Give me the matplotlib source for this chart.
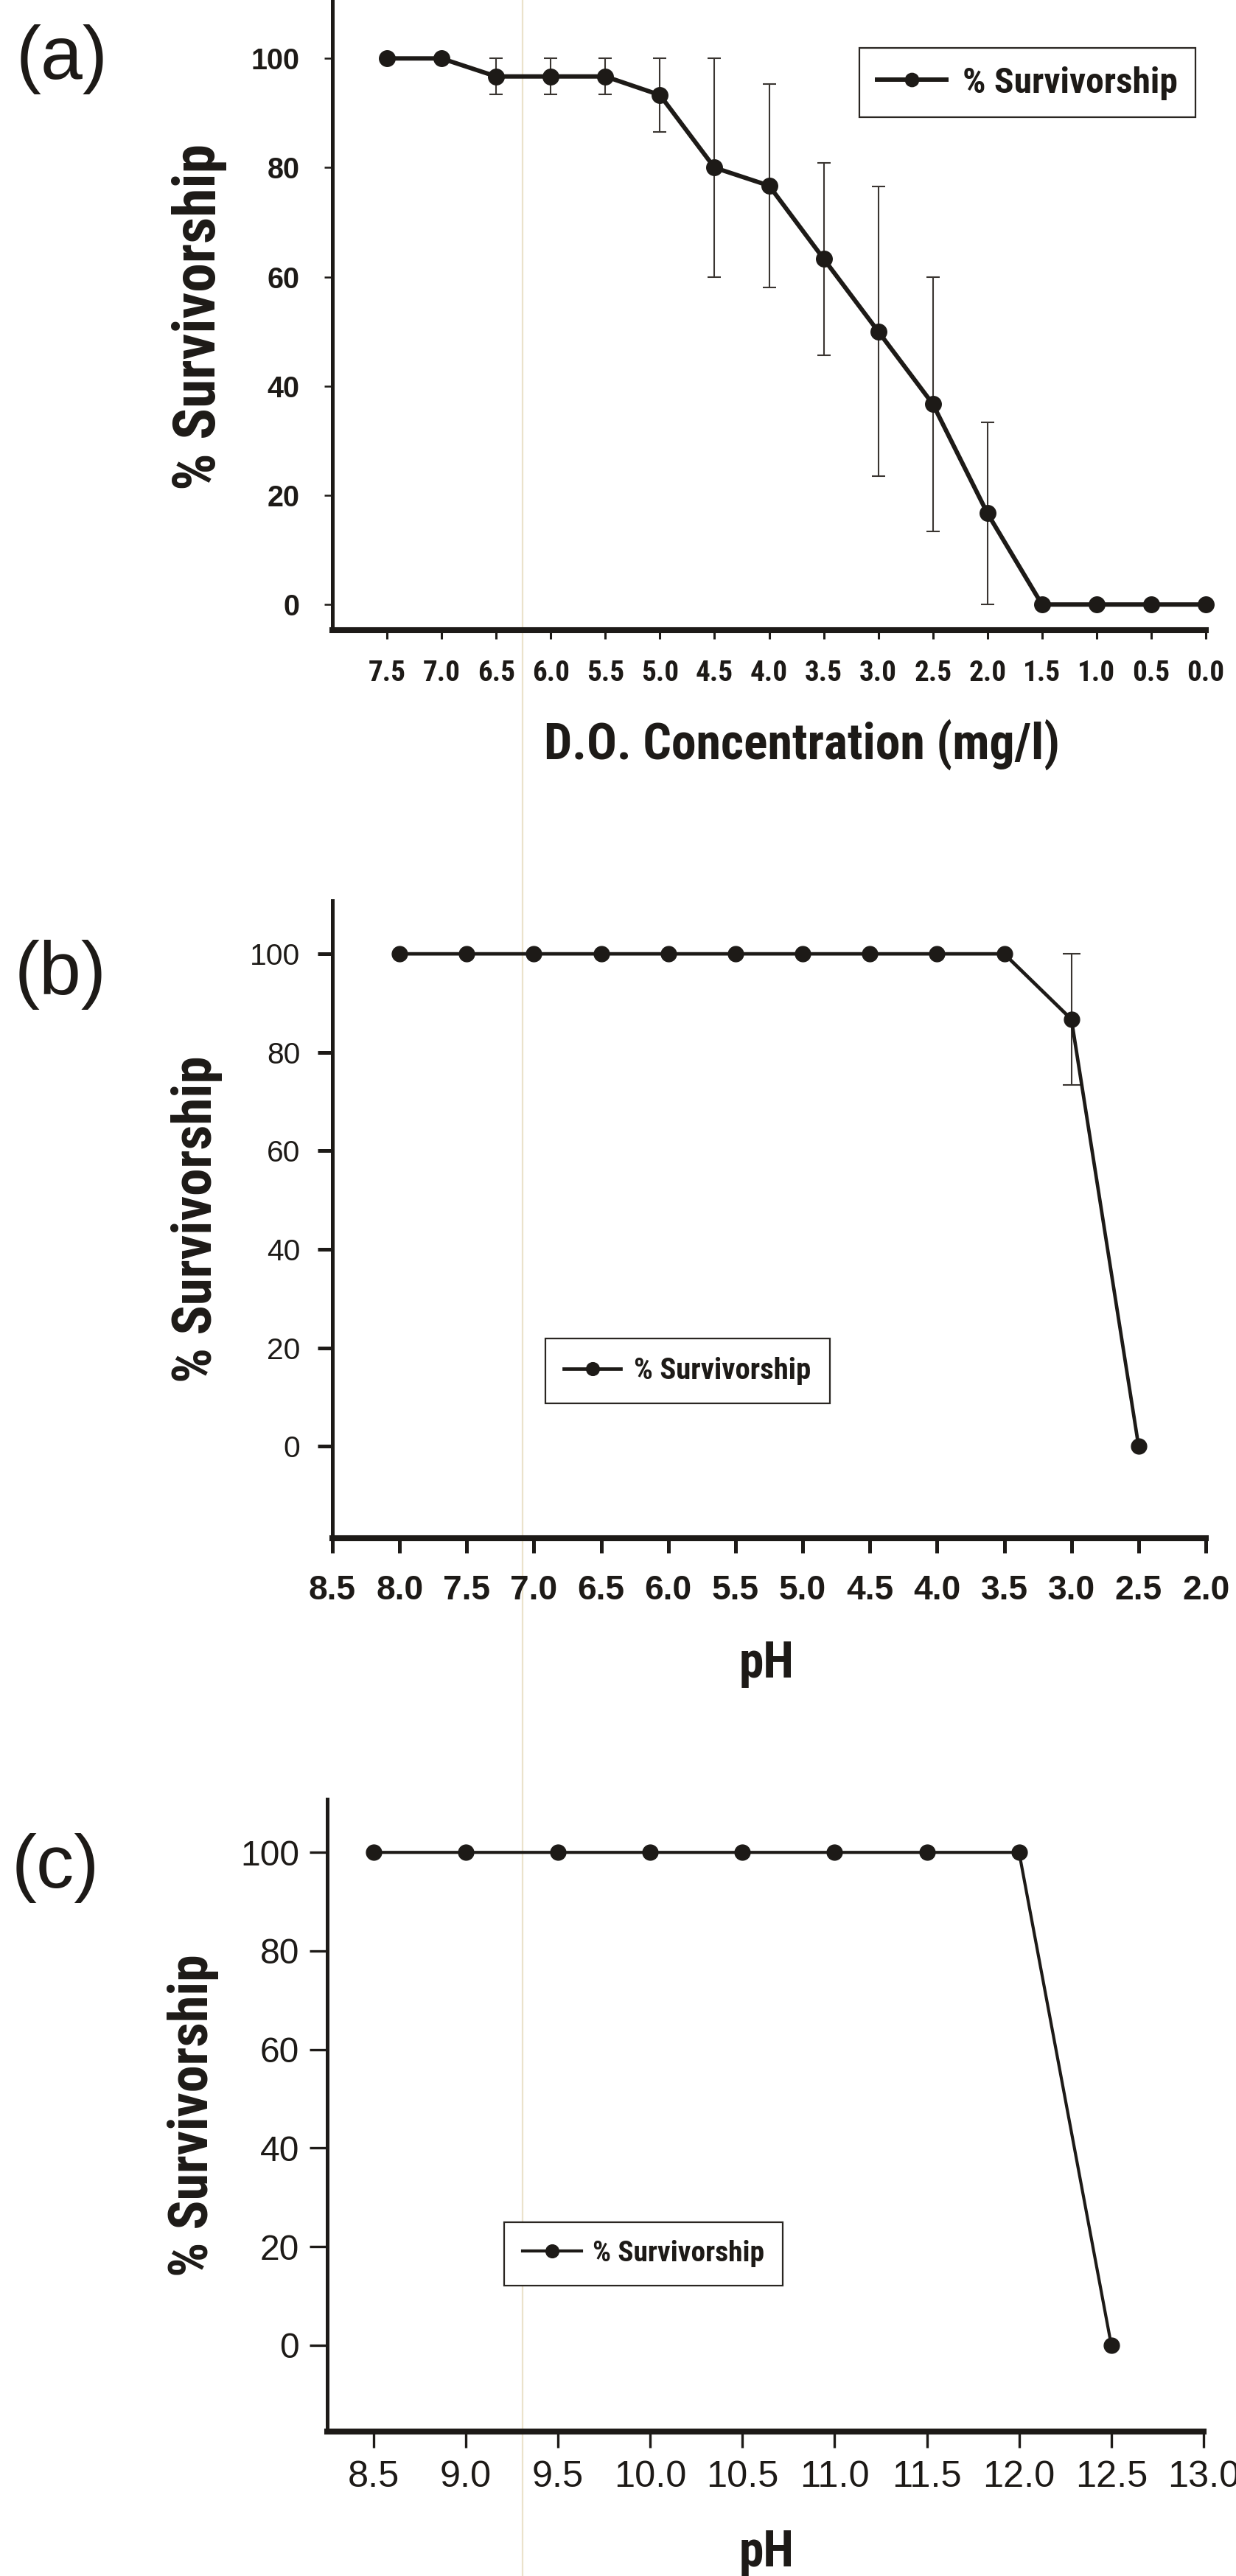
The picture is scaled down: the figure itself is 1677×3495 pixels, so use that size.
import numpy as np
import matplotlib
matplotlib.use("Agg")
import matplotlib.pyplot as plt
from matplotlib import font_manager as fm
from matplotlib.font_manager import FontProperties
from matplotlib.lines import Line2D

# ---------------- data ----------------
do_conc = [7.5, 7.0, 6.5, 6.0, 5.5, 5.0, 4.5, 4.0, 3.5, 3.0, 2.5, 2.0, 1.5, 1.0, 0.5, 0.0]
do_surv = [100.0, 100.0, 96.7, 96.7, 96.7, 93.3, 80.0, 76.7, 63.3, 50.0, 36.7, 16.7, 0.0, 0.0, 0.0, 0.0]
do_err = [0.0, 0.0, 3.3, 3.3, 3.3, 6.7, 20.0, 18.6, 17.6, 26.5, 23.3, 16.7, 0.0, 0.0, 0.0, 0.0]

acid_ph = [8.0, 7.5, 7.0, 6.5, 6.0, 5.5, 5.0, 4.5, 4.0, 3.5, 3.0, 2.5]
acid_surv = [100.0, 100.0, 100.0, 100.0, 100.0, 100.0, 100.0, 100.0, 100.0, 100.0, 86.7, 0.0]
acid_err = [0.0, 0.0, 0.0, 0.0, 0.0, 0.0, 0.0, 0.0, 0.0, 0.0, 13.3, 0.0]

alk_ph = [8.5, 9.0, 9.5, 10.0, 10.5, 11.0, 11.5, 12.0, 12.5]
alk_surv = [100.0, 100.0, 100.0, 100.0, 100.0, 100.0, 100.0, 100.0, 0.0]

a_xticks = [7.5, 7.0, 6.5, 6.0, 5.5, 5.0, 4.5, 4.0, 3.5, 3.0, 2.5, 2.0, 1.5, 1.0, 0.5, 0.0]
b_xticks = [8.5, 8.0, 7.5, 7.0, 6.5, 6.0, 5.5, 5.0, 4.5, 4.0, 3.5, 3.0, 2.5, 2.0]
c_xticks = [8.5, 9.0, 9.5, 10.0, 10.5, 11.0, 11.5, 12.0, 12.5, 13.0]
y_ticks = [0, 20, 40, 60, 80, 100]

series_label = "% Survivorship"
y_title = "% Survivorship"
a_xtitle = "D.O. Concentration (mg/l)"
bc_xtitle = "pH"

# ---------------- fonts ----------------
W, H, DPI = 1677, 3495, 100
names = {f.name for f in fm.fontManager.ttflist}
SANS = "Liberation Sans" if "Liberation Sans" in names else "DejaVu Sans"


def find_condensed(bold):
    pref = ["Liberation Sans Narrow", "Arial Narrow", "Nimbus Sans Narrow",
            "Roboto Condensed", "Noto Sans", "Open Sans", "DejaVu Sans", "Roboto"]
    cands = []
    for f in fm.fontManager.ttflist:
        st = str(f.stretch).lower()
        nm = f.name
        cond = ("narrow" in nm.lower() or "condensed" in nm.lower()
                or st in ("condensed", "semi-condensed", "narrow")
                or "condensed" in f.fname.lower() or "narrow" in f.fname.lower())
        if not cond:
            continue
        if "extra" in f.fname.lower() or "ultra" in f.fname.lower() or "semi" in f.fname.lower():
            continue
        if "italic" in f.fname.lower() or "oblique" in f.fname.lower() or str(f.style) != "normal":
            continue
        w = f.weight if isinstance(f.weight, int) else (700 if "bold" in str(f.weight) else 400)
        if bold and w < 650:
            continue
        if (not bold) and w > 500:
            continue
        rank = next((i for i, p in enumerate(pref) if nm.startswith(p)), len(pref))
        cands.append((rank, f.fname))
    if cands:
        cands.sort()
        return FontProperties(fname=cands[0][1])
    return None


NB = find_condensed(True)
HAVE_NARROW = NB is not None
if NB is None:
    NB = FontProperties(family=SANS, weight="bold")
GROW = 1.0 if HAVE_NARROW else 1.07

INK = "#1d1a17"

fig = plt.figure(figsize=(W / DPI, H / DPI), dpi=DPI, facecolor="white")
renderer = fig.canvas.get_renderer()


def props(kind):
    if kind == "nb":
        return NB.copy()
    if kind == "b":
        return FontProperties(family=SANS, weight="bold")
    return FontProperties(family=SANS, weight="normal")


def fit_size(text, target_px, kind):
    fp = props(kind)
    fp.set_size(100)
    t = fig.text(0, 0, text, fontproperties=fp)
    w = t.get_window_extent(renderer=renderer).width
    t.remove()
    s = 100.0 * target_px / w
    if kind == "nb":
        s *= GROW
    return s


def ftext(x, y, s, kind, size, rotation=0):
    fp = props(kind)
    fp.set_size(size)
    fig.text(x / W, 1 - y / H, s, ha="center", va="center", rotation=rotation,
             fontproperties=fp, color=INK)


# scan artefact: faint vertical line
fig.add_artist(Line2D([709 / W, 709 / W], [0, 1], transform=fig.transFigure,
                      color="#ebe2cb", lw=1.6, zorder=-5))


def make_panel(box, xlim, ylim, xticks, x, y, err, cfg):
    l, t, r, b = box
    ax = fig.add_axes([l / W, 1 - b / H, (r - l) / W, (b - t) / H])
    ax.patch.set_alpha(0)
    ax.set_xlim(*xlim)
    ax.set_ylim(*ylim)
    for s in ("top", "right"):
        ax.spines[s].set_visible(False)
    ax.spines["left"].set_linewidth(cfg["lw_left"])
    ax.spines["bottom"].set_linewidth(cfg["lw_bottom"])
    ax.spines["left"].set_color(INK)
    ax.spines["bottom"].set_color(INK)

    xe = [xi for xi, e in zip(x, err) if e > 0]
    ye = [yi for yi, e in zip(y, err) if e > 0]
    ee = [e for e in err if e > 0]
    if ee:
        ax.errorbar(xe, ye, yerr=ee, fmt="none", ecolor="#3a3531",
                    elinewidth=cfg["elw"], capsize=cfg["cap"], capthick=cfg["elw"], zorder=2)
    line, = ax.plot(x, y, "-o", color=INK, lw=cfg["lw"], ms=cfg["ms"],
                    markerfacecolor=INK, markeredgecolor=INK, zorder=3, clip_on=False)

    ax.set_xticks(xticks, labels=[f"{v:.1f}" for v in xticks])
    ax.set_yticks(y_ticks, labels=[str(v) for v in y_ticks])
    xfs = fit_size(cfg["xsample"], cfg["xsample_w"], cfg["xkind"])
    yfs = fit_size("100", cfg["ysample_w"], cfg["ykind"])
    ax.tick_params(axis="x", direction="out", length=cfg["xtl"] * 0.72, width=cfg["xtw"],
                   pad=cfg["xpad"], color=INK)
    ax.tick_params(axis="y", direction="out", length=cfg["ytl"] * 0.72, width=cfg["ytw"],
                   pad=cfg["ypad"], color=INK)
    for lab in ax.get_xticklabels():
        fp = props(cfg["xkind"]); fp.set_size(xfs)
        lab.set_fontproperties(fp); lab.set_color(INK)
    for lab in ax.get_yticklabels():
        fp = props(cfg["ykind"]); fp.set_size(yfs)
        lab.set_fontproperties(fp); lab.set_color(INK)

    # legend
    lx0, ly0, lx1, ly1 = cfg["leg_box"]
    fs = fit_size(series_label, cfg["leg_text_w"], "nb")
    em = fs * DPI / 72.0
    tw = cfg["leg_text_w"] * GROW
    bp = max(0.2, ((lx1 - lx0) - cfg["leg_handle"] - cfg["leg_gap"] - tw) / 2.0 / em)
    lp = props("nb"); lp.set_size(fs)
    leg = ax.legend([line], [series_label], loc="center",
                    bbox_to_anchor=((lx0 + lx1) / 2 / W, 1 - (ly0 + ly1) / 2 / H),
                    bbox_transform=fig.transFigure, prop=lp,
                    handlelength=cfg["leg_handle"] / em, handletextpad=cfg["leg_gap"] / em,
                    borderpad=bp, fancybox=False, framealpha=1, edgecolor="#2a2622",
                    numpoints=1, markerscale=0.85)
    leg.get_frame().set_linewidth(1.6)
    for txt in leg.get_texts():
        txt.set_color(INK)
    return ax


# ---------------- panel (a) ----------------
cfg_a = dict(lw_left=3.6, lw_bottom=5.8, elw=1.5, cap=6.5, lw=4.3, ms=15.5,
             xsample="7.5", xsample_w=51, xkind="nb",
             ysample_w=66, ykind="b",
             xtl=12, xtw=2.2, ytl=11, ytw=1.8, xpad=20, ypad=24,
             leg_box=(1166, 60, 1622, 165), leg_text_w=292, leg_handle=94, leg_gap=22)
make_panel((451, 0, 1636, 855), (8.0, 0.0), (-4.7, 110.7), a_xticks,
           do_conc, do_surv, do_err, cfg_a)

# ---------------- panel (b) ----------------
cfg_b = dict(lw_left=3.6, lw_bottom=5.8, elw=1.5, cap=8.5, lw=3.4, ms=15,
             xsample="8.5", xsample_w=64, xkind="b",
             ysample_w=68, ykind="n",
             xtl=20, xtw=3.6, ytl=20, ytw=3.6, xpad=21, ypad=17,
             leg_box=(740, 1812, 1126, 1908), leg_text_w=241, leg_handle=77, leg_gap=18)
make_panel((451, 1222, 1636, 2087), (8.5, 2.0), (-18.7, 110.8), b_xticks,
           acid_ph, acid_surv, acid_err, cfg_b)

# ---------------- panel (c) ----------------
cfg_c = dict(lw_left=3.6, lw_bottom=5.8, elw=1.5, cap=8.5, lw=3.0, ms=15,
             xsample="10.0", xsample_w=98, xkind="n",
             ysample_w=80, ykind="n",
             xtl=22, xtw=2.4, ytl=24, ytw=2.4, xpad=12, ypad=10,
             leg_box=(684, 3012, 1062, 3103), leg_text_w=233, leg_handle=80, leg_gap=16)
make_panel((444, 2441, 1633, 3299), (8.25, 13.0), (-17.5, 110.8), c_xticks,
           alk_ph, alk_surv, [0.0] * len(alk_ph), cfg_c)

# ---------------- titles ----------------
for (cx, cy, length) in [(270, 430, 470), (267, 1654, 444), (262, 2870, 438)]:
    ftext(cx, cy, y_title, "nb", fit_size(y_title, length, "nb"), rotation=90)

ftext(1088, 1010, a_xtitle, "nb", fit_size(a_xtitle, 700, "nb"))
ptsize = fit_size(bc_xtitle, 75, "nb")
ftext(1040, 2257, bc_xtitle, "nb", ptsize)
ftext(1040, 3463, bc_xtitle, "nb", ptsize)

plsize = fit_size("(a)", 125, "n")
for (cx, cy, s) in [(84, 80, "(a)"), (82, 1323, "(b)"), (75, 2534, "(c)")]:
    ftext(cx, cy, s, "n", plsize)

fig.savefig("out.png", dpi=DPI, facecolor="white")
